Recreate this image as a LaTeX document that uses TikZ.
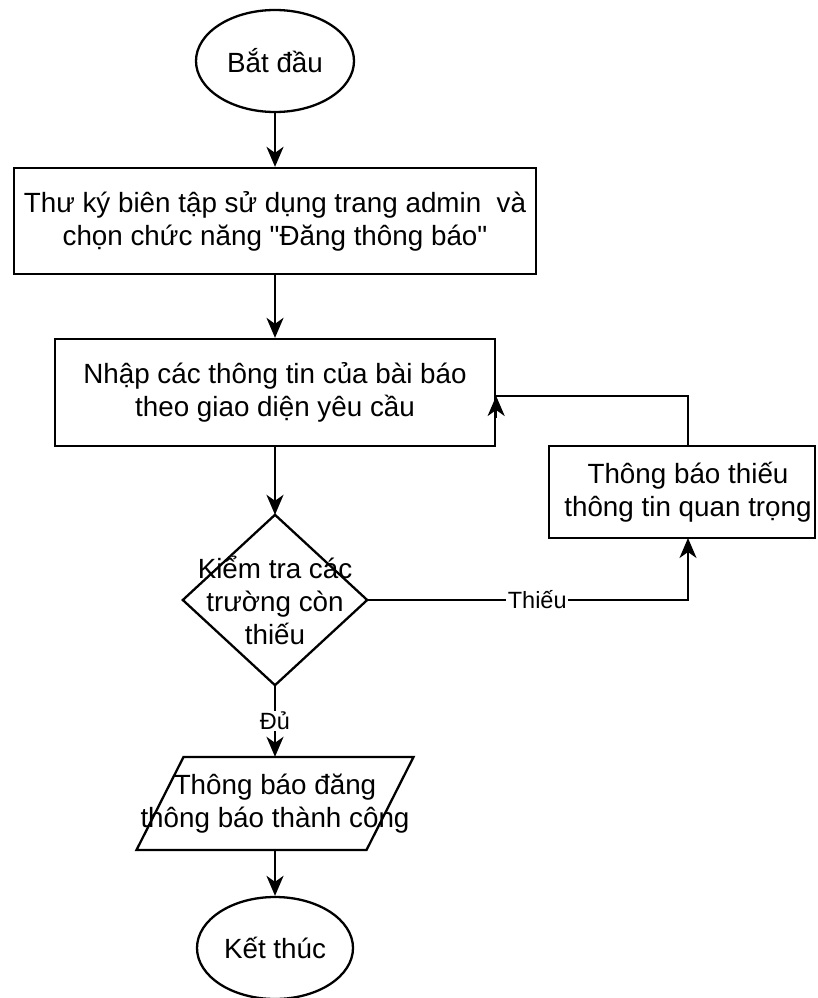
\documentclass[tikz,border=0pt]{standalone}
\usepackage{fontspec}
% plain family: straight quotes stay straight
\newfontfamily\diafont{Liberation Sans}
\usetikzlibrary{shapes.geometric,arrows.meta,calc}
\begin{document}
\begin{tikzpicture}[x=1pt,y=-1pt,
  every node/.style={font=\diafont\fontsize{27.8}{33}\selectfont, align=center, inner sep=0pt},
  box/.style={draw, line width=2.3pt, rectangle},
  term/.style={draw, line width=2.3pt, ellipse},
  shapeline/.style={line width=2.3pt, line join=miter},
  link/.style={line width=2.3pt},
  flow/.style={line width=2.3pt, -{Stealth[length=20pt,width=17pt,inset=6pt]}},
  lbl/.style={fill=white, font=\diafont\fontsize{23.5}{28}\selectfont, inner sep=1.5pt}
]
\useasboundingbox (0,0) rectangle (817,998);

% start / end terminals
\node[term, minimum width=158pt, minimum height=102pt] (start) at (275,61) {Bắt đầu};
\node[term, minimum width=156pt, minimum height=102pt] (stop) at (275,948) {Kết thúc};

% process boxes
\node[box, minimum width=522pt, minimum height=106pt] (admin) at (275,221)
  {Thư ký biên tập sử dụng trang admin\ \ và\\chọn chức năng "Đăng thông báo"};
\node[box, minimum width=440pt, minimum height=107pt] (input) at (275,392.5)
  {Nhập các thông tin của bài báo\\theo giao diện yêu cầu};
\node[box, minimum width=266pt, minimum height=92pt] (warn) at (682,492) {};
\node (warntext) at (688,492) {Thông báo thiếu\\thông tin quan trọng};

% decision diamond
\node[minimum width=184pt, minimum height=170pt] (check) at (275,600)
  {Kiểm tra các\\trường còn\\thiếu};
\draw[shapeline] (check.north) -- (check.east) -- (check.south) -- (check.west) -- cycle;

% output parallelogram
\node[minimum width=230pt, minimum height=93pt] (done) at (275,803.5)
  {Thông báo đăng\\thông báo thành công};
\draw[shapeline] (136.5,850) -- (183.5,757) -- (413.5,757) -- (366.5,850) -- cycle;

% connection points on the warning box and the input box
\coordinate (warnbot) at (688,538);
\coordinate (warntop) at (688,446);
\coordinate (inputin) at (input.east |- 0,396);

% main flow
\draw[flow] (start) -- (admin);
\draw[flow] (admin) -- (input);
\draw[flow] (input) -- (check);
\draw[flow] (check) -- node[lbl]{Đủ} (done.north);
\draw[flow] (done.south) -- (stop);

% missing-fields loop
\draw[flow] (check.east) -| node[lbl, pos=0.265]{Thiếu} (warnbot);
\draw[link] (warntop) |- (inputin);
\draw[flow] ($(inputin)+(0,22)$) -- (inputin);
\end{tikzpicture}
\end{document}
